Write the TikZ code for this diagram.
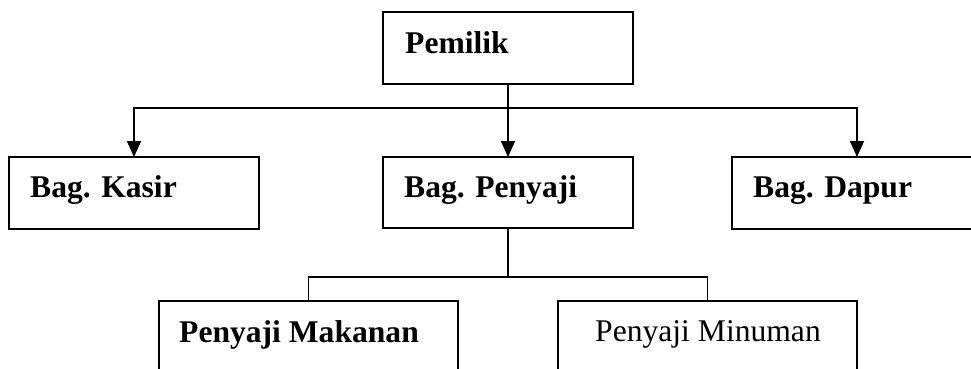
\documentclass[tikz,border=0pt]{standalone}
\usepackage{fontspec}
\setmainfont{Liberation Serif}
\usetikzlibrary{arrows.meta}
\begin{document}
\begin{tikzpicture}[x=1pt,y=-1pt,
  box/.style={draw=black, line width=1.9pt, fill=white, rectangle, inner sep=0pt, outer sep=0pt, anchor=north west},
  lbl/.style={anchor=base west, inner sep=0pt, font=\fontsize{31.6}{38}\selectfont\bfseries},
  lblr/.style={anchor=base west, inner sep=0pt, font=\fontsize{31.6}{38}\selectfont},
  conn/.style={draw=black, line width=1.7pt},
  arr/.style={conn, -{Triangle[length=16pt,width=14pt]}}]
\useasboundingbox (0,0) rectangle (971,369);
\clip (0,0) rectangle (971,369);
\fill[white] (0,0) rectangle (971,369);
% boxes
\node[box, minimum width=250pt, minimum height=72pt] (pemilik) at (383,12) {};
\node[box, minimum width=250pt, minimum height=72pt] (kasir) at (9,157) {};
\node[box, minimum width=250pt, minimum height=71pt] (penyaji) at (383,157) {};
\node[box, minimum width=250pt, minimum height=72pt] (dapur) at (732,157) {};
\node[box, minimum width=299pt, minimum height=90pt] (makanan) at (159,301) {};
\node[box, minimum width=299pt, minimum height=90pt] (minuman) at (558,301) {};
% labels
\node[lbl] (tpemilik) at (405,53) {Pemilik};
\node[lbl] (tkasir) at (30,197) {Bag. Kasir};
\node[lbl] (tpenyaji) at (404,197) {Bag. Penyaji};
\node[lbl] (tdapur) at (753,197) {Bag. Dapur};
\node[lbl] (tmakanan) at (179,342) {Penyaji Makanan};
\node[lblr] (tminuman) at (595,341) {Penyaji Minuman};
% connectors
\coordinate (y1) at (0,108);
\coordinate (y2) at (0,277);
\coordinate (bus1) at (pemilik.south |- y1);
\coordinate (bus2) at (penyaji.south |- y2);
\draw[conn] (pemilik.south) -- (bus1);
\draw[arr] (bus1) -| (kasir.north);
\draw[arr] (bus1) -- (penyaji.north);
\draw[arr] (bus1) -| (dapur.north);
\draw[conn] (penyaji.south) -- (bus2);
\draw[conn] (bus2) -| (makanan.north);
\draw[conn] (bus2) -| (minuman.north);
\end{tikzpicture}
\end{document}
